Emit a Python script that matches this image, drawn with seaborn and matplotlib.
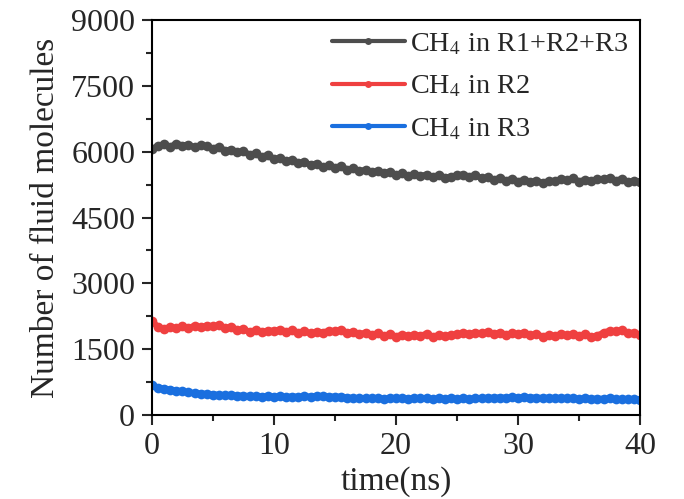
import numpy as np
import pandas as pd
import matplotlib
matplotlib.use('Agg')
import matplotlib.pyplot as plt
import seaborn as sns
from matplotlib.ticker import MultipleLocator

ch4_total = [6060, 6130, 6170, 6110, 6180, 6140, 6160, 6100, 6150, 6120,
             6070, 6110, 6020, 6050, 5990, 6010, 5930, 5960, 5880, 5930,
             5830, 5860, 5780, 5810, 5750, 5760, 5700, 5730, 5650, 5690,
             5640, 5670, 5590, 5620, 5550, 5590, 5530, 5560, 5510, 5540,
             5470, 5510, 5450, 5490, 5440, 5480, 5420, 5470, 5410, 5430,
             5460, 5480, 5430, 5470, 5390, 5420, 5360, 5400, 5340, 5380,
             5320, 5360, 5300, 5340, 5290, 5330, 5330, 5370, 5350, 5390,
             5320, 5360, 5330, 5380, 5370, 5410, 5340, 5380, 5310, 5340,
             5320]
ch4_r2 = [2150, 2000, 1960, 2010, 1980, 2020, 1990, 2030, 2000, 2040,
          2020, 2050, 1990, 2010, 1940, 1960, 1900, 1930, 1890, 1920,
          1920, 1950, 1900, 1930, 1880, 1910, 1860, 1900, 1880, 1920,
          1910, 1950, 1870, 1900, 1840, 1880, 1830, 1860, 1810, 1840,
          1790, 1830, 1800, 1830, 1810, 1850, 1790, 1820, 1800, 1830,
          1840, 1870, 1850, 1880, 1860, 1890, 1850, 1880, 1830, 1860,
          1850, 1880, 1820, 1850, 1790, 1820, 1810, 1840, 1820, 1850,
          1810, 1840, 1780, 1810, 1880, 1920, 1910, 1940, 1860, 1880,
          1830]
ch4_r3 = [680, 630, 600, 580, 560, 540, 520, 500, 490, 480,
          470, 460, 455, 450, 445, 440, 435, 430, 425, 435,
          420, 430, 410, 425, 415, 430, 420, 440, 430, 425,
          415, 420, 400, 390, 380, 385, 380, 390, 375, 385,
          380, 390, 375, 385, 380, 390, 370, 380, 375, 385,
          370, 380, 365, 385, 380, 395, 390, 400, 395, 405,
          400, 410, 395, 400, 390, 395, 385, 395, 380, 390,
          370, 380, 365, 375, 370, 380, 360, 370, 360, 370,
          355]
time_ns = np.linspace(0, 40, len(ch4_total))

series = [
    ('CH$_4$ in R1+R2+R3', ch4_total, '#4d4d4d'),
    ('CH$_4$ in R2', ch4_r2, '#ef4040'),
    ('CH$_4$ in R3', ch4_r3, '#1a6fdf'),
]

sns.set_style('white')
plt.rcParams['font.family'] = ['Liberation Serif', 'DejaVu Serif']
plt.rcParams['mathtext.fontset'] = 'stix'

fig = plt.figure(figsize=(6.84, 4.99), dpi=100)
ax = fig.add_axes([0.222, 0.168, 0.714, 0.792])

for label, vals, color in series:
    df = pd.DataFrame({'time': time_ns, 'count': vals})
    sns.lineplot(data=df, x='time', y='count', ax=ax, color=color, label=label,
                 marker='o', markersize=7, markeredgewidth=0, linewidth=4.5,
                 sort=False)

ax.set_xlim(0, 40)
ax.set_ylim(0, 9000)
ax.xaxis.set_major_locator(MultipleLocator(10))
ax.xaxis.set_minor_locator(MultipleLocator(5))
ax.yaxis.set_major_locator(MultipleLocator(1500))
ax.yaxis.set_minor_locator(MultipleLocator(750))
ax.tick_params(which='major', direction='out', length=7, width=1.5,
               labelsize=23, left=True, bottom=True, pad=5)
ax.tick_params(which='minor', direction='out', length=4, width=1.5,
               left=True, bottom=True)
for sp in ax.spines.values():
    sp.set_linewidth(1.5)
    sp.set_color('black')

ax.set_xlabel('time(ns)', fontsize=24, labelpad=4)
ax.set_ylabel('Number of fluid molecules', fontsize=24, labelpad=7)

leg = ax.legend(loc='upper right', frameon=False, fontsize=20.3, handlelength=2.6,
                handletextpad=0.2, labelspacing=0.6, borderaxespad=0.2,
                borderpad=0.2)
for h in leg.legend_handles:
    h.set_linewidth(3)
    h.set_markersize(5)

plt.savefig('out.png', dpi=100)
